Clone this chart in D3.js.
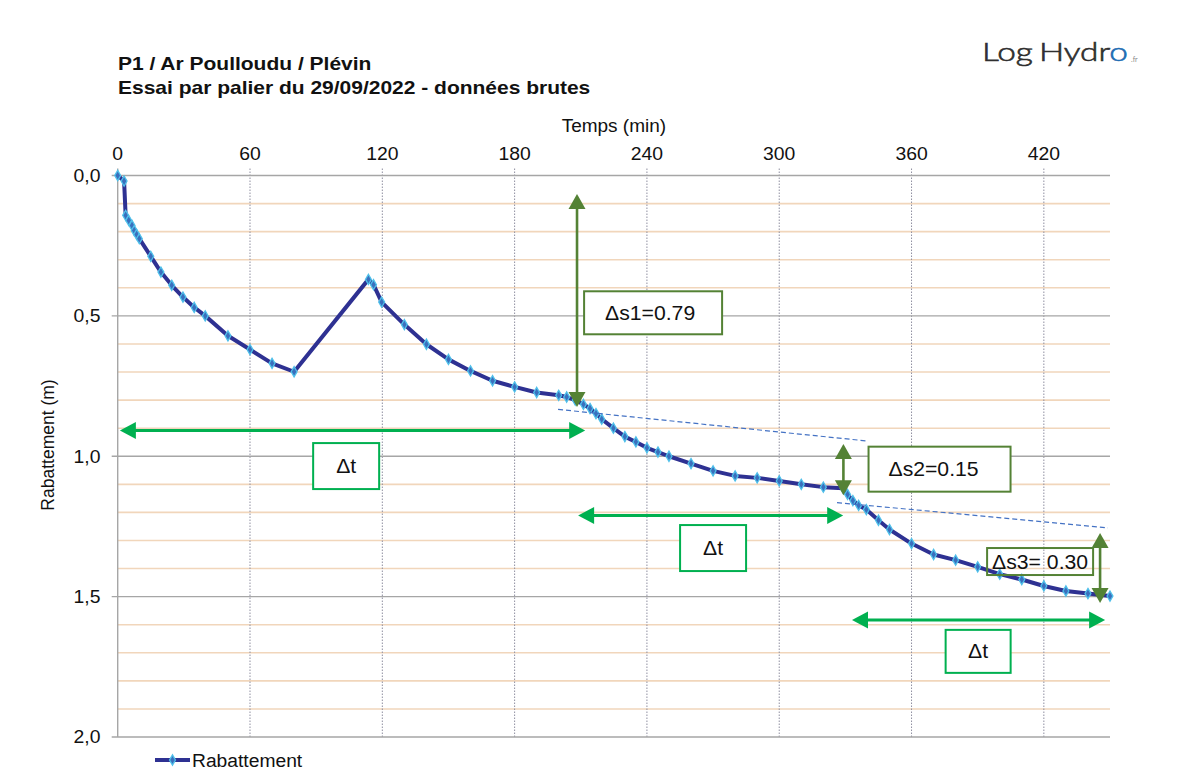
<!DOCTYPE html>
<html>
<head>
<meta charset="utf-8">
<script src="https://cdn.jsdelivr.net/npm/d3@7"></script>
<style>
  body { margin: 0; background: #fff; }
  svg { display: block; font-family: "Liberation Sans", Arial, sans-serif; }
</style>
</head>
<body>
<svg id="chart" width="1193" height="776"></svg>
<script>
// Step-drawdown test P1 – raw drawdown readings
const times = [0, 2.9, 3.6, 5, 6.5, 7.5, 8.6, 9.8, 15, 19.6, 24.5, 29.6, 34.7, 39.7, 50, 60, 70, 80,
  113.7, 116, 119.7, 130, 140, 150, 160, 170, 180, 190, 200, 203.6, 207.5, 211.2, 214.2, 216.9, 219.5,
  224.8, 230, 235, 240, 245, 250, 260, 270, 280, 290, 300, 310, 320, 329, 331, 333.4, 336, 339.5,
  345, 350, 360, 370, 380, 390, 400, 410, 420, 430, 440, 450];
const drawdowns = [0, 0.02, 0.142, 0.16, 0.178, 0.196, 0.21, 0.225, 0.288, 0.344, 0.391, 0.433, 0.47, 0.5, 0.571, 0.62, 0.669, 0.699,
  0.37, 0.389, 0.451, 0.531, 0.601, 0.655, 0.696, 0.731, 0.753, 0.773, 0.783, 0.789, 0.80, 0.815, 0.83, 0.848, 0.868,
  0.90, 0.93, 0.949, 0.97, 0.985, 1.0, 1.026, 1.052, 1.07, 1.077, 1.088, 1.10, 1.11, 1.114, 1.136, 1.158, 1.175, 1.19,
  1.228, 1.261, 1.311, 1.35, 1.37, 1.394, 1.42, 1.439, 1.462, 1.48, 1.489, 1.498];

const xTicks = [0, 60, 120, 180, 240, 300, 360, 420];
const yMajorTicks = [0, 0.5, 1.0, 1.5, 2.0];
const yMinorTicks = [0.1, 0.2, 0.3, 0.4, 0.6, 0.7, 0.8, 0.9, 1.1, 1.2, 1.3, 1.4, 1.6, 1.7, 1.8, 1.9];

// Construction annotations (time in min, drawdown in m)
const dsArrows = [
  { t: 208.3, s0: 0.066, s1: 0.825 },
  { t: 329.1, s0: 0.956, s1: 1.139 },
  { t: 445.5, s0: 1.273, s1: 1.523 }
];
const dtArrows = [
  { s: 0.908, t0: 1.0, t1: 212 },
  { s: 1.211, t0: 208.8, t1: 329 },
  { s: 1.583, t0: 333, t1: 447.8 }
];
const trendLines = [
  { t0: 199.7, s0: 0.833, t1: 340.3, s1: 0.946 },
  { t0: 326.2, s0: 1.165, t1: 449.1, s1: 1.255 }
];
const labelTexts = ["Δs1=0.79", "Δt", "Δs2=0.15", "Δt", "Δs3= 0.30", "Δt"];
const labelAnchors = [
  { t: 242.8, s: 0.489 }, { t: 103.6, s: 1.035 }, { t: 372.7, s: 1.046 },
  { t: 270.0, s: 1.327 }, { t: 418.3, s: 1.375 }, { t: 390.2, s: 1.695 }
];

const svg = d3.select("#chart");
const x = d3.scaleLinear().domain([0, 450]).range([117.7, 1110]);
const y = d3.scaleLinear().domain([0, 2]).range([175.5, 737]);

// Text with a slightly wide letterform
function wideText(g, px, py, txt, size, sx, anchor = "start", weight = "normal") {
  return g.append("text")
    .attr("transform", `translate(${px},${py}) scale(${sx},1)`)
    .attr("text-anchor", anchor).attr("font-size", size).attr("font-weight", weight)
    .attr("fill", "#111").text(txt);
}

// Titles
wideText(svg, 118, 69.5, "P1 / Ar Poulloudu / Plévin", 17.5, 1.2, "start", "bold");
wideText(svg, 118, 93.5, "Essai par palier du 29/09/2022 - données brutes", 17.5, 1.2, "start", "bold");

// Logo
const logo = svg.append("text").attr("x", 982).attr("y", 61).attr("font-size", 26)
  .attr("font-family", "Lato, 'Open Sans', sans-serif").attr("font-weight", 300)
  .attr("textLength", 146).attr("lengthAdjust", "spacingAndGlyphs").attr("fill", "#2f2f2f")
  .attr("stroke", "#2f2f2f").attr("stroke-width", 0.6);
logo.append("tspan").text("Log");
logo.append("tspan").attr("dx", 5).text("Hydr");
logo.append("tspan").attr("fill", "#1f6db3").attr("stroke", "#1f6db3").text("o");
svg.append("text").attr("x", 1131).attr("y", 62).attr("font-size", 7).attr("fill", "#888")
  .attr("font-family", "Lato, sans-serif").text(".fr");

// Grid: minor horizontal lines
const grid = svg.append("g");
grid.selectAll(".minor").data(yMinorTicks).join("line")
  .attr("x1", x(0)).attr("x2", x(450)).attr("y1", d => y(d)).attr("y2", d => y(d))
  .attr("stroke", "#f1d6bb").attr("stroke-width", 1.6);
// Vertical dotted lines
grid.selectAll(".vgrid").data(xTicks.filter(d => d > 0)).join("line")
  .attr("x1", d => x(d)).attr("x2", d => x(d)).attr("y1", y(0) - 7).attr("y2", y(2))
  .attr("stroke", "#8f8fa0").attr("stroke-width", 1).attr("stroke-dasharray", "1.5,1.5");
// Major horizontal lines
grid.selectAll(".major").data(yMajorTicks).join("line")
  .attr("x1", x(0) - 6).attr("x2", x(450)).attr("y1", d => y(d)).attr("y2", d => y(d))
  .attr("stroke", "#a6a6a6").attr("stroke-width", 1.4);
// Left axis line
grid.append("line").attr("x1", x(0)).attr("x2", x(0)).attr("y1", y(0) - 7).attr("y2", y(2))
  .attr("stroke", "#a6a6a6").attr("stroke-width", 1.4);

// Axis labels
xTicks.forEach(d => wideText(svg, x(d), 159.5, String(d), 17.6, 1.1, "middle"));
yMajorTicks.forEach(d => wideText(svg, 100.5, y(d) + 6.3, d3.format(".1f")(d).replace(".", ","), 17.6, 1.1, "end"));
wideText(svg, (x(0) + x(450)) / 2, 132, "Temps (min)", 17.6, 1.08, "middle");
svg.append("text").attr("transform", `translate(54,445) rotate(-90)`)
  .attr("text-anchor", "middle").attr("font-size", 17.5).attr("fill", "#111").text("Rabattement (m)");

// Data series
const pts = times.map((t, i) => [t, drawdowns[i]]);
svg.append("path").datum(pts)
  .attr("d", d3.line().x(d => x(d[0])).y(d => y(d[1])))
  .attr("fill", "none").attr("stroke", "#2e3192").attr("stroke-width", 4).attr("stroke-linejoin", "round");
const diamond = d3.symbol().type(d3.symbolDiamond).size(30);
svg.selectAll(".pt").data(pts).join("path")
  .attr("d", diamond).attr("transform", d => `translate(${x(d[0])},${y(d[1])})`)
  .attr("fill", "#3a6fbd").attr("stroke", "#4fc0ea").attr("stroke-width", 1.3);

// Trend lines (dashed)
svg.selectAll(".trend").data(trendLines).join("line")
  .attr("x1", d => x(d.t0)).attr("y1", d => y(d.s0)).attr("x2", d => x(d.t1)).attr("y2", d => y(d.s1))
  .attr("stroke", "#4472c4").attr("stroke-width", 1.2).attr("stroke-dasharray", "5,3");

// Double-headed arrow helper
function doubleArrow(g, x0, y0, x1, y1, color, width, headLen, headHalf) {
  const dx = x1 - x0, dy = y1 - y0, L = Math.hypot(dx, dy);
  const ux = dx / L, uy = dy / L, px = -uy, py = ux;
  g.append("line")
    .attr("x1", x0 + ux * headLen * 0.8).attr("y1", y0 + uy * headLen * 0.8)
    .attr("x2", x1 - ux * headLen * 0.8).attr("y2", y1 - uy * headLen * 0.8)
    .attr("stroke", color).attr("stroke-width", width);
  const head = (tx, ty, sx, sy) => {
    const bx = tx + sx * headLen, by = ty + sy * headLen;
    return [[tx, ty], [bx + px * headHalf, by + py * headHalf], [bx - px * headHalf, by - py * headHalf]];
  };
  g.append("polygon").attr("points", head(x0, y0, ux, uy).join(" ")).attr("fill", color);
  g.append("polygon").attr("points", head(x1, y1, -ux, -uy).join(" ")).attr("fill", color);
}

const ann = svg.append("g");
dtArrows.forEach(a => doubleArrow(ann, x(a.t0), y(a.s), x(a.t1), y(a.s), "#00b050", 3, 16, 8.5));
dsArrows.forEach(a => doubleArrow(ann, x(a.t), y(a.s0), x(a.t), y(a.s1), "#548235", 2.6, 15, 8.5));

// Label boxes
const boxSizes = [[138, 43], [66, 46], [142, 45], [66, 46], [106, 27], [65, 43]];
const boxStroke = ["#548235", "#00b050", "#548235", "#00b050", "#548235", "#00b050"];
const boxFill = ["#fff", "#fff", "#fff", "#fff", "none", "#fff"];
labelTexts.forEach((txt, i) => {
  const cx = x(labelAnchors[i].t), cy = y(labelAnchors[i].s);
  const [w, h] = boxSizes[i];
  ann.append("rect").attr("x", cx - w / 2).attr("y", cy - h / 2).attr("width", w).attr("height", h)
    .attr("fill", boxFill[i]).attr("stroke", boxStroke[i]).attr("stroke-width", 2);
  wideText(ann, cx - (i === 0 ? 3 : i === 2 ? 6 : 0), cy + 7, txt, 20, 1.06, "middle");
});

// Legend
const lg = svg.append("g");
lg.append("line").attr("x1", 155).attr("x2", 190).attr("y1", 760).attr("y2", 760)
  .attr("stroke", "#2e3192").attr("stroke-width", 4);
lg.append("path").attr("d", diamond).attr("transform", "translate(172.5,760)")
  .attr("fill", "#3a6fbd").attr("stroke", "#4fc0ea").attr("stroke-width", 1.3);
wideText(lg, 192, 766.5, "Rabattement", 18, 1.07);
</script>
</body>
</html>
